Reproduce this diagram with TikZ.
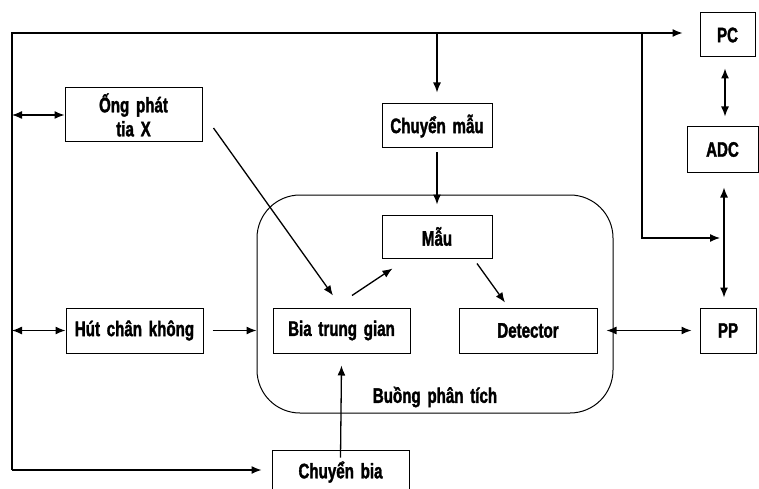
\documentclass[tikz,border=0pt]{standalone}
\usepackage{fontspec}
\setmainfont{Liberation Sans}[FakeStretch=0.72, WordSpace=1.6, BoldFeatures={FakeBold=1.6}]
\usepackage{tikz}
\usetikzlibrary{arrows.meta}

\tikzset{
  blk/.style = {draw, line width=1pt, inner sep=0pt, font=\fontsize{21}{24}\selectfont\bfseries},
  arr/.style = {-{Latex[length=10pt,width=8pt]}, line width=1.3pt},
  darr/.style = {{Latex[length=10pt,width=8pt]}-{Latex[length=10pt,width=8pt]}, line width=1.3pt},
}

\begin{document}
\begin{tikzpicture}[x=1pt, y=-1pt]
  \useasboundingbox (0,0) rectangle (759,489);
  % chamber
  \node[draw, line width=1pt, rounded corners=43pt, minimum width=356pt, minimum height=218pt] at (435,304) (chamber) {};
  \node[font=\fontsize{21}{24}\selectfont\bfseries] at (435,397) (chamberlbl) {Buồng phân tích};
  % boxes
  \node[blk, minimum width=55pt, minimum height=44pt] at (727.5,35) (PC) {PC};
  \node[blk, minimum width=71pt, minimum height=45pt] at (722.5,149.5) (ADC) {ADC};
  \node[blk, minimum width=56pt, minimum height=45pt] at (728,330.5) (PP) {PP};
  \node[blk, minimum width=110pt, minimum height=44pt] at (437,126) (chuyenmau) {Chuyển mẫu};
  \node[blk, minimum width=110pt, minimum height=43pt] at (437,236.5) (mau) {Mẫu};
  \node[blk, minimum width=137pt, minimum height=45pt] at (341.5,330.5) (bia) {Bia trung gian};
  \node[blk, minimum width=138pt, minimum height=45pt] at (528,330.5) (detector) {Detector};
  \node[blk, minimum width=137pt, minimum height=54pt, align=center] at (133.5,115) (ongphat) {Ống phát\\tia X};
  \node[blk, minimum width=137pt, minimum height=45pt] at (134.5,330.5) (hut) {Hút chân không};
  \node[blk, minimum width=137pt, minimum height=44pt] at (340.5,472) (chuyenbia) {Chuyển bia};
  % bus lines
  \coordinate (tl) at (12,33);
  \coordinate (bl) at (12,470);
  \coordinate (br) at (642,33);
  \draw[arr] (bl) -- (tl) -- ([xshift=-17pt]tl -| PC.west);
  \draw[arr, shorten >=10pt] (bl) -- (bl -| chuyenbia.west);
  \draw[darr] (tl |- ongphat.west) -- (ongphat.west);
  \draw[darr] (tl |- hut.west) -- (hut.west);
  \draw[arr] (437,33) -- ([yshift=11pt]chuyenmau.north);
  \draw[arr] (br) -- (642,238) -- (720,238);
  % right column
  \draw[darr] ([yshift=-11pt]PC.south -| 725,0) -- ([yshift=10pt]ADC.north -| 725,0);
  \draw[darr] ([yshift=-15pt]ADC.south -| 724,0) -- ([yshift=10pt]PP.north -| 724,0);
  \draw[darr] ([xshift=9pt]detector.east) -- ([xshift=-8pt]PP.west);
  % inside the chamber
  \draw[arr] ([yshift=-4pt]chuyenmau.south) -- ([yshift=10pt]mau.north);
  \draw[arr] ([xshift=11pt,yshift=-13pt]ongphat.east) -- ([xshift=-8.5pt,yshift=12pt]bia.north);
  \draw[arr] ([xshift=10.5pt,yshift=12pt]bia.north) -- ([xshift=11pt,yshift=-10pt]mau.south west);
  \draw[arr] ([xshift=40pt,yshift=-5pt]mau.south) -- ([xshift=-23pt,yshift=5pt]detector.north);
  \draw[arr] ([yshift=-8pt]chuyenbia.north) -- ([yshift=-12pt]bia.south);
  \draw[arr] ([xshift=9pt]hut.east) -- (chamber.west |- hut.east);
\end{tikzpicture}
\end{document}
